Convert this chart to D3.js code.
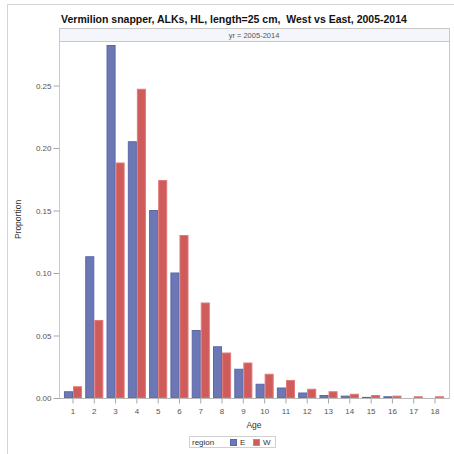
<!DOCTYPE html>
<html>
<head>
<meta charset="utf-8">
<script src="https://cdn.jsdelivr.net/npm/d3@7/dist/d3.min.js"></script>
<style>
  html, body { margin: 0; padding: 0; background: #fff; }
  svg { display: block; font-family: "Liberation Sans", Arial, sans-serif; }
</style>
</head>
<body>
<svg id="chart" width="454" height="454"></svg>
<script>
// Age composition by region (age-length key, 25 cm fish)
const ages = [1, 2, 3, 4, 5, 6, 7, 8, 9, 10, 11, 12, 13, 14, 15, 16, 17, 18];
const regions = ["E", "W"];
const propE = [0.005, 0.113, 0.282, 0.205, 0.150, 0.100, 0.054, 0.041, 0.023, 0.011, 0.008, 0.004, 0.002, 0.0015, 0.0005, 0.001, 0.0, 0.0];
const propW = [0.009, 0.062, 0.188, 0.247, 0.174, 0.130, 0.076, 0.036, 0.028, 0.019, 0.014, 0.007, 0.005, 0.003, 0.002, 0.0015, 0.001, 0.001];
const yTicks = [0.00, 0.05, 0.10, 0.15, 0.20, 0.25];

const fills = { E: "#6b78b5", W: "#d05b5b" };
const strokes = { E: "#5a68a8", W: "#e07a7a" };

const svg = d3.select("#chart");
const plot = { left: 59, right: 449, top: 41, bottom: 398 };

// outer frame (left and top edges)
svg.append("path")
  .attr("d", "M7.5,454 V4.5 H454")
  .attr("fill", "none").attr("stroke", "#d4d4d4");

// title
svg.append("text")
  .attr("x", 234).attr("y", 23)
  .attr("text-anchor", "middle")
  .attr("font-size", 10.5).attr("font-weight", "bold").attr("fill", "#111")
  .text("Vermilion snapper, ALKs, HL, length=25 cm,\u00a0 West vs East, 2005-2014");

// panel strip
svg.append("rect")
  .attr("x", plot.left + 0.5).attr("y", 28.5)
  .attr("width", plot.right - plot.left).attr("height", plot.top - 28)
  .attr("fill", "#f4f6fb").attr("stroke", "#c8c8c8");
svg.append("text")
  .attr("x", (plot.left + plot.right) / 2).attr("y", 37.5)
  .attr("text-anchor", "middle").attr("font-size", 7.5).attr("fill", "#555")
  .text("yr = 2005-2014");

// scales
const x = d3.scaleBand().domain(ages).range([62.35, 445.65])
  .paddingInner(0.15).paddingOuter(0.075);
const xs = d3.scaleBand().domain(regions).range([0, x.bandwidth()]);
const y = d3.scaleLinear().domain([0, 0.2856]).range([plot.bottom, plot.top]);

// plot frame
svg.append("rect")
  .attr("x", plot.left + 0.5).attr("y", plot.top + 0.5)
  .attr("width", plot.right - plot.left).attr("height", plot.bottom - plot.top)
  .attr("fill", "none").attr("stroke", "#c8c8c8");

// bars
const rows = ages.map((a, i) => ({ age: a, E: propE[i], W: propW[i] }));
const groups = svg.append("g").selectAll("g").data(rows).join("g")
  .attr("transform", d => `translate(${x(d.age)},0)`);
groups.selectAll("rect")
  .data(d => regions.map(r => ({ r, v: d[r] })))
  .join("rect")
  .attr("x", d => xs(d.r) + 0.5)
  .attr("width", xs.bandwidth() - 1)
  .attr("y", d => y(d.v))
  .attr("height", d => Math.max(0, y(0) - y(d.v)))
  .attr("fill", d => fills[d.r])
  .attr("stroke", d => strokes[d.r])
  .attr("stroke-width", 1);

// axes
const yAxis = d3.axisLeft(y).tickValues(yTicks).tickFormat(d3.format(".2f"))
  .tickSize(6).tickPadding(2);
const gy = svg.append("g").attr("transform", `translate(${plot.left + 0.5},0)`).call(yAxis);
gy.select(".domain").remove();
gy.selectAll("line").attr("stroke", "#a8a8a8");
gy.selectAll("text").attr("font-size", 8).attr("fill", "#555").attr("font-family", "Liberation Sans, Arial, sans-serif");

const xAxis = d3.axisBottom(x).tickSize(5).tickPadding(5);
const gx = svg.append("g").attr("transform", `translate(0,${plot.bottom + 0.5})`).call(xAxis);
gx.select(".domain").remove();
gx.selectAll("line").attr("stroke", "#a8a8a8");
gx.selectAll("text").attr("font-size", 8).attr("fill", "#555").attr("font-family", "Liberation Sans, Arial, sans-serif");

// baseline
svg.append("line")
  .attr("x1", plot.left).attr("x2", plot.right)
  .attr("y1", plot.bottom + 0.5).attr("y2", plot.bottom + 0.5)
  .attr("stroke", "#b8b8b8");

// axis titles
svg.append("text")
  .attr("x", (plot.left + plot.right) / 2).attr("y", 428)
  .attr("text-anchor", "middle").attr("font-size", 8.5).attr("fill", "#333")
  .text("Age");
svg.append("text")
  .attr("transform", `translate(21,${(plot.top + plot.bottom) / 2}) rotate(-90)`)
  .attr("text-anchor", "middle").attr("font-size", 8.5).attr("fill", "#333")
  .text("Proportion");

// legend
const lg = svg.append("g");
lg.append("rect").attr("x", 189.5).attr("y", 436.5).attr("width", 86).attr("height", 11)
  .attr("fill", "#fff").attr("stroke", "#d0d0d0");
lg.append("text").attr("x", 192).attr("y", 445).attr("font-size", 8).attr("fill", "#333").text("region");
const items = lg.selectAll("g.item").data(regions).join("g").attr("class", "item")
  .attr("transform", (d, i) => `translate(${230 + i * 23},0)`);
items.append("rect").attr("x", 0.5).attr("y", 439.5).attr("width", 6).attr("height", 6)
  .attr("fill", d => fills[d]).attr("stroke", d => strokes[d]);
items.append("text").attr("x", 10).attr("y", 445).attr("font-size", 8).attr("fill", "#333").text(d => d);
</script>
</body>
</html>
